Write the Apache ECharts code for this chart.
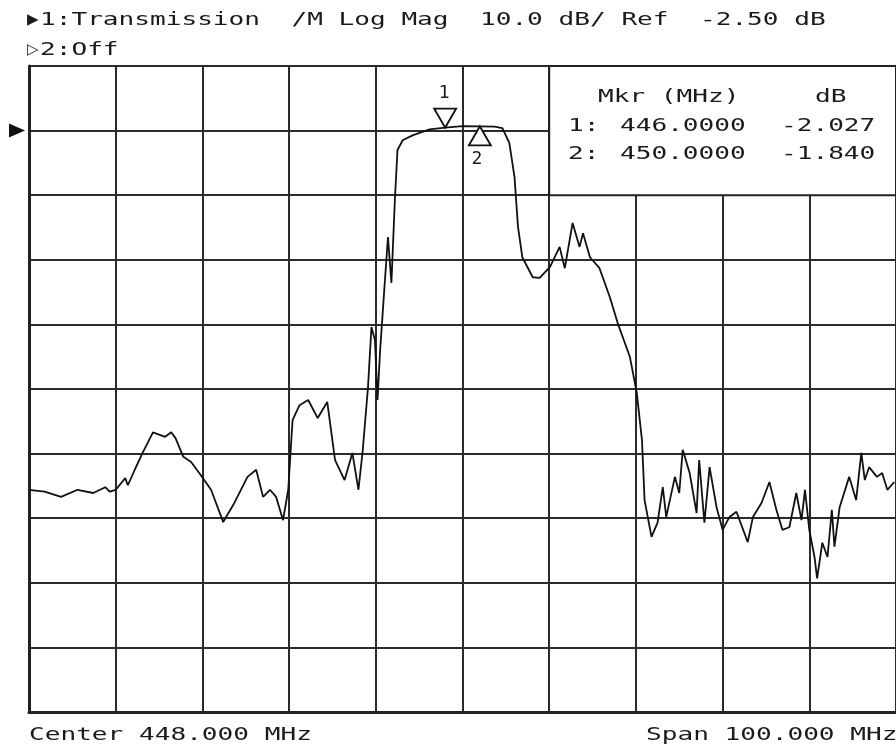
<!DOCTYPE html>
<html>
<head>
<meta charset="utf-8">
<title>Transmission /M Log Mag</title>
<script src="https://cdn.jsdelivr.net/npm/echarts@6/dist/echarts.min.js"></script>
<style>
    html, body { margin: 0; padding: 0; background: #fff; }
    #main { width: 896px; height: 745px; }
</style>
</head>
<body>
<div id="main"></div>
<script>
/*analyzer settings start*/
const centerMHz = 448
const spanMHz = 100
const refDB = -2.5
const scaleDB = 10
const divisions = 10
const topDB = refDB + scaleDB      // ref line sits one division below the top
const bottomDB = topDB - scaleDB * divisions
/*analyzer settings end*/

/*trace start*/
const freqMHz = [
    398.0, 399.8, 401.7, 403.6, 405.4, 406.8, 407.3, 408.0, 409.1, 409.4, 410.2,
    411.1, 412.3, 413.7, 414.4, 414.9, 415.8, 416.7, 417.8, 419.0, 420.4,
    421.7, 423.2, 424.2, 425.0, 425.8, 426.5, 427.3, 427.9, 428.4, 429.2,
    430.2, 431.3, 432.4, 433.3, 434.4, 435.3, 436.0, 436.5, 437.1, 437.5,
    437.9, 438.2, 438.5, 439.0, 439.4, 439.8, 440.2, 440.5, 441.1, 442.3,
    444.2, 446.0, 448.0, 450.0, 451.7, 452.6, 453.4, 454.0, 454.4, 454.9,
    456.1, 456.9, 458.1, 459.2, 459.8, 460.7, 461.5, 461.9, 462.7, 463.8,
    465.0, 465.9, 467.3, 468.1, 468.7, 469.0, 469.8, 470.5, 471.1, 471.5,
    472.5, 473.0, 473.4, 474.2, 475.0, 475.3, 475.9, 476.5, 477.3, 478.0,
    478.8, 479.6, 480.9, 481.5, 482.5, 483.4, 484.2, 484.9, 485.7, 486.5,
    487.1, 487.5, 488.0, 488.6, 488.9, 489.5, 490.1, 490.6, 490.9, 491.5,
    492.6, 493.4, 494.0, 494.4, 494.9, 495.8, 496.4, 497.0, 497.8
]
const magDB = [
    -58.1, -58.4, -59.2, -58.1, -58.6, -57.7, -58.4, -58.1, -56.3, -57.4, -55.0,
    -52.4, -49.2, -49.9, -49.2, -50.1, -53.0, -53.8, -55.8, -58.1, -63.1,
    -60.1, -56.1, -55.0, -59.2, -58.1, -59.2, -62.8, -58.1, -47.3, -45.0,
    -44.2, -47.0, -44.5, -53.5, -56.6, -52.4, -58.1, -51.9, -42.2, -32.9,
    -34.9, -44.2, -36.5, -26.7, -19.0, -26.1, -13.2, -5.5, -4.0, -3.2,
    -2.3, -2.03, -1.8, -1.84, -1.9, -2.1, -4.4, -9.7, -17.4, -22.1,
    -25.2, -25.3, -23.6, -20.5, -23.8, -16.8, -20.5, -18.4, -22.1, -23.8,
    -28.3, -32.3, -37.5, -43.1, -50.4, -59.7, -65.4, -63.2, -57.7, -62.3,
    -56.1, -58.6, -51.9, -55.5, -61.7, -53.5, -63.2, -54.6, -60.8, -64.3,
    -62.3, -61.5, -66.2, -62.3, -60.1, -56.9, -61.2, -64.3, -63.9, -58.6,
    -62.8, -58.1, -64.3, -68.5, -71.8, -66.3, -68.5, -61.2, -66.9, -60.8,
    -56.1, -59.7, -52.4, -56.6, -54.6, -56.1, -55.5, -58.1, -56.9
]
/*trace end*/

/*markers start*/
const markerFreq = [446.0, 450.0]
const markerDB = [-2.027, -1.840]
/*markers end*/

const MONO = '"DejaVu Sans Mono", "Liberation Mono", monospace'
const INK = '#1a1a1a'
const startMHz = centerMHz - spanMHz / 2
const stopMHz = centerMHz + spanMHz / 2

let chart = echarts.init(document.getElementById('main'))

// fixed pitch text like the analyzer print-out (glyphs stretched to the wide pitch)
function printText(text, x, y) {
    return {
        type: 'text',
        x: x,
        y: y,
        z: 100,
        scaleX: 1.45,
        silent: true,
        style: {
            text: text,
            fontFamily: MONO,
            fontSize: 18,
            fill: INK,
            verticalAlign: 'middle',
            textVerticalAlign: 'middle'
        }
    }
}

function glyph(text, x, y) {
    return {
        type: 'text', x: x, y: y, z: 100, silent: true,
        style: { text: text, fontFamily: 'DejaVu Sans', fontSize: 15, fill: INK, verticalAlign: 'middle', textVerticalAlign: 'middle' }
    }
}

let graphics = [
    glyph('▶', 27, 20),
    printText('1:Transmission  /M Log Mag  ' + scaleDB.toFixed(1) + ' dB/ Ref  ' + refDB.toFixed(2) + ' dB', 40, 20),
    glyph('▷', 27, 50),
    printText('2:Off', 40, 50),
    printText('Center ' + centerMHz.toFixed(3) + ' MHz', 29, 735),
    printText('Span ' + spanMHz.toFixed(3) + ' MHz', 646, 735),
    printText('Mkr (MHz)', 598, 97),
    printText('dB', 815, 97)
]
for (let i = 0; i < markerFreq.length; i++) {
    let y = 126 + i * 28
    graphics.push(printText((i + 1) + ':', 568, y))
    graphics.push(printText(markerFreq[i].toFixed(4), 620, y))
    graphics.push(printText(markerDB[i].toFixed(3), 781, y))
}

let option = {
    animation: false,
    backgroundColor: '#fff',
    grid: { left: 29, right: 0, top: 66, bottom: 33 },
    xAxis: [
        {
            // graticule: 10 divisions
            type: 'value', min: 0, max: divisions, interval: 1,
            axisLabel: { show: false }, axisTick: { show: false },
            axisLine: { show: true, onZero: false, lineStyle: { color: '#222', width: 3 } },
            splitLine: { show: true, lineStyle: { color: '#2b2b2b', width: 2 } }
        },
        { type: 'value', min: startMHz, max: stopMHz, show: false }
    ],
    yAxis: [
        {
            type: 'value', min: 0, max: divisions, interval: 1,
            axisLabel: { show: false }, axisTick: { show: false },
            axisLine: { show: true, onZero: false, lineStyle: { color: '#222', width: 3 } },
            splitLine: { show: true, lineStyle: { color: '#2b2b2b', width: 2 } }
        },
        { type: 'value', min: bottomDB, max: topDB, show: false }
    ],
    graphic: graphics,
    series: [
        {
            name: 'Transmission',
            type: 'line',
            xAxisIndex: 1,
            yAxisIndex: 1,
            data: freqMHz.map((f, i) => [f, magDB[i]]),
            showSymbol: false,
            smooth: false,
            lineStyle: { color: '#111', width: 1.8 },
            z: 3,
            markArea: {
                silent: true,
                itemStyle: { color: '#fff', borderColor: '#222', borderWidth: 2, opacity: 1 },
                data: [[{ coord: [centerMHz + scaleDB, topDB] }, { coord: [stopMHz, refDB - scaleDB] }]]
            }
        },
        {
            name: 'Markers',
            type: 'scatter',
            xAxisIndex: 1,
            yAxisIndex: 1,
            silent: true,
            z: 4,
            data: markerFreq.map((f, i) => ({
                value: [f, markerDB[i]],
                symbolRotate: i === 0 ? 180 : 0,
                symbolOffset: [0, i === 0 ? -9.5 : 9.5]
            })),
            symbol: 'triangle',
            symbolSize: [22, 19],
            itemStyle: { color: '#fff', borderColor: '#111', borderWidth: 1.8, opacity: 1 }
        },
        {
            name: 'Marker numbers',
            type: 'scatter',
            xAxisIndex: 1,
            yAxisIndex: 1,
            silent: true,
            z: 4,
            symbolSize: 1,
            itemStyle: { color: 'rgba(0,0,0,0)', opacity: 1 },
            data: markerFreq.map((f, i) => ({
                value: [f, markerDB[i]],
                name: String(i + 1),
                label: { position: i === 0 ? 'top' : 'bottom', distance: i === 0 ? 25 : 23, offset: [i === 0 ? -1 : -3, 0] }
            })),
            label: { show: true, formatter: '{b}', fontFamily: MONO, fontSize: 18, color: INK }
        },
        {
            name: 'Ref',
            type: 'scatter',
            xAxisIndex: 1,
            yAxisIndex: 1,
            silent: true,
            clip: false,
            data: [[startMHz, refDB]],
            symbol: 'triangle',
            symbolSize: [14, 16],
            symbolRotate: -90,
            symbolOffset: [-12, 0],
            itemStyle: { color: '#111', opacity: 1 }
        }
    ]
}
chart.setOption(option)
</script>
</body>
</html>
